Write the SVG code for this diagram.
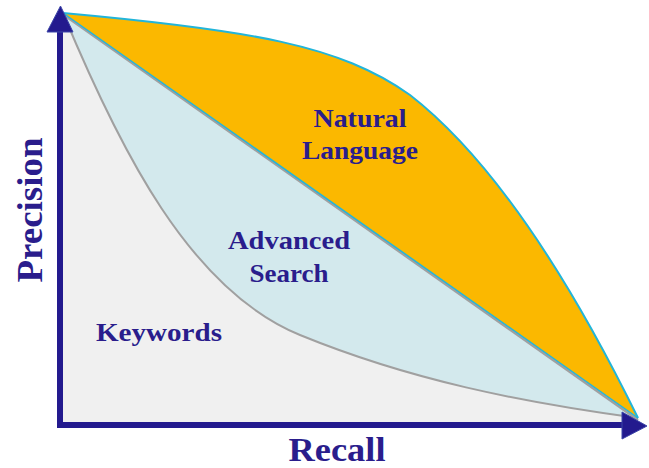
<svg xmlns="http://www.w3.org/2000/svg" width="649" height="468" viewBox="0 0 649 468">
<style>
.lbl{font-family:"Liberation Serif","Times New Roman",serif;font-weight:bold;fill:#2A1D8C;text-anchor:middle}
.axis{stroke:#231A8E;stroke-width:6;fill:none}
.head{fill:#231A8E;stroke:#3B44A8;stroke-width:1}
</style>
<rect width="649" height="468" fill="#FFFFFF"/>
<g id="regions">
<path id="advanced-area" d="M63,13 L638,418 L638,425 L60,425 Z" fill="#D3E9ED"/>
<path id="keywords-area" d="M63,13 C120,150 190,290 300,335 C410,380 520,402 638,418 L638,425 L60,425 Z" fill="#F0F0F0"/>
<path id="natural-area" d="M63,13 C250,30 340,45 410,95 C500,165 580,300 638,418 Z" fill="#FBB800"/>
</g>
<g id="connectors">
<path d="M63,13 C120,150 190,290 300,335 C410,380 520,402 638,418" fill="none" stroke="#A0A0A0" stroke-width="2"/>
<path d="M64,15 L638,420" fill="none" stroke="#A0A0A0" stroke-width="2.5"/>
<path d="M63,13 L638,418" fill="none" stroke="#22B5DA" stroke-width="1.5"/>
<path d="M63,13 C250,30 340,45 410,95 C500,165 580,300 638,418" fill="none" stroke="#22B5DA" stroke-width="2"/>
</g>
<g id="y-axis">
<line class="axis" x1="60" y1="30" x2="60" y2="428"/>
<polygon class="head" points="60.5,6 73,32 47,32"/>
</g>
<g id="x-axis">
<line class="axis" x1="57" y1="425" x2="624" y2="425"/>
<polygon class="head" points="647,426 622,412 622,439"/>
</g>
<g id="natural-language">
<text class="lbl" x="360" y="127" font-size="26" textLength="93" lengthAdjust="spacingAndGlyphs">Natural</text>
<text class="lbl" x="360" y="159" font-size="26" textLength="116" lengthAdjust="spacingAndGlyphs">Language</text>
</g>
<g id="advanced-search">
<text class="lbl" x="289" y="249" font-size="26" textLength="122" lengthAdjust="spacingAndGlyphs">Advanced</text>
<text class="lbl" x="289" y="282" font-size="26" textLength="79" lengthAdjust="spacingAndGlyphs">Search</text>
</g>
<g id="keywords">
<text class="lbl" x="159" y="341" font-size="26" textLength="126" lengthAdjust="spacingAndGlyphs">Keywords</text>
</g>
<g id="labels">
<text class="lbl" x="337" y="461" font-size="33" textLength="97" lengthAdjust="spacingAndGlyphs">Recall</text>
<text class="lbl" transform="translate(42,210) rotate(-90)" x="0" y="0" font-size="36" textLength="145" lengthAdjust="spacingAndGlyphs">Precision</text>
</g>
</svg>
